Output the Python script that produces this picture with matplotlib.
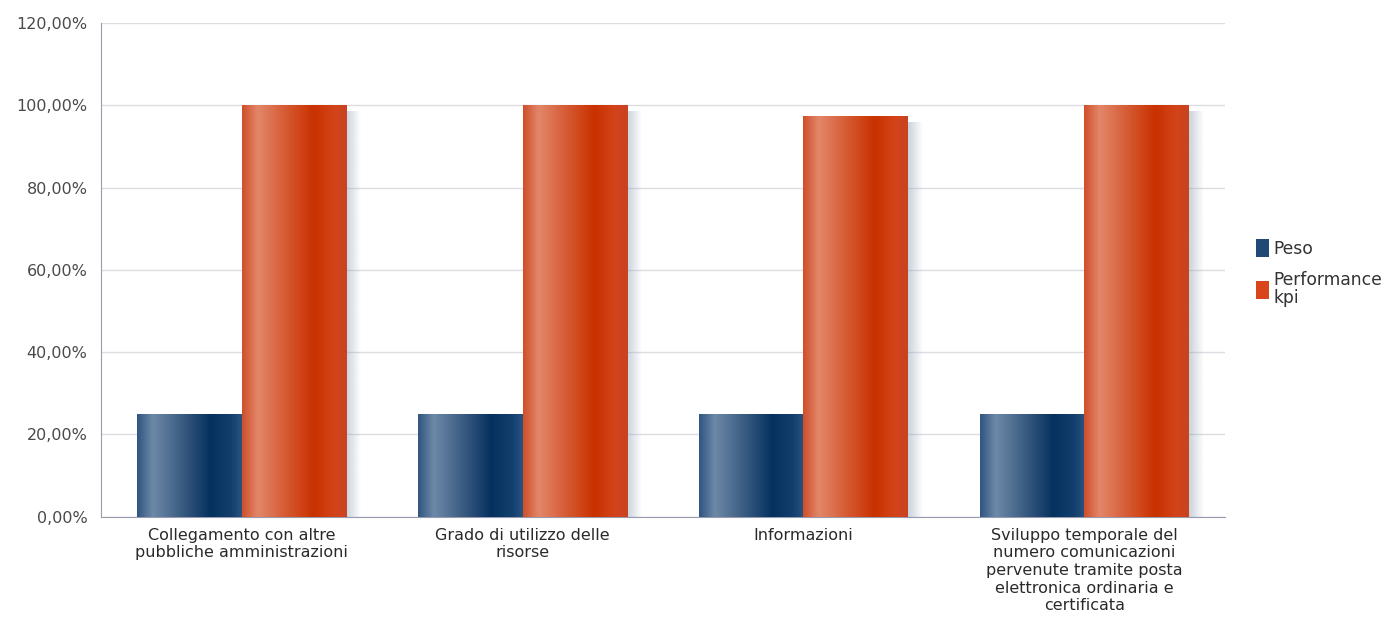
import numpy as np
import matplotlib
matplotlib.use("Agg")
import matplotlib.pyplot as plt
from matplotlib.colors import LinearSegmentedColormap
from matplotlib.patches import Patch

plt.rcParams['font.family'] = ['DejaVu Sans']

categorie = [
    "Collegamento con altre\npubbliche amministrazioni",
    "Grado di utilizzo delle\nrisorse",
    "Informazioni",
    "Sviluppo temporale del\nnumero comunicazioni\npervenute tramite posta\nelettronica ordinaria e\ncertificata",
]
peso = [25.0, 25.0, 25.0, 25.0]
performance_kpi = [100.0, 100.0, 97.5, 100.0]
tick_valori = [0, 20, 40, 60, 80, 100, 120]

# sfumature "cilindriche" delle barre
cmap_blu = LinearSegmentedColormap.from_list("blu", [
    (0.0, "#2f5581"), (0.15, "#6e89a8"), (0.45, "#36597f"),
    (0.7, "#05315f"), (0.9, "#123f6d"), (1.0, "#2a5380")])
cmap_arancio = LinearSegmentedColormap.from_list("arancio", [
    (0.0, "#cf4f2a"), (0.15, "#e2876a"), (0.45, "#d4552c"),
    (0.68, "#c93100"), (0.88, "#d3441a"), (1.0, "#c84322")])

fig, ax = plt.subplots(figsize=(13.9, 6.21), dpi=100)
fig.subplots_adjust(left=0.073, right=0.881, top=0.963, bottom=0.168)

x = np.arange(len(categorie))
w = 0.372
gradiente = np.linspace(0, 1, 256).reshape(1, -1)

# ombra: grigio-azzurro con trasparenza decrescente
ombra = np.zeros((1, 64, 4))
ombra[..., :3] = np.array([0x8a, 0x9c, 0xb2]) / 255
ombra[..., 3] = np.linspace(0.45, 0, 64)


def barre_sfumate(xs, valori, cmap, con_ombra=False):
    barre = ax.bar(xs, valori, w, color="none", edgecolor="none", zorder=3)
    for b in barre:
        x0, y0, bw, bh = b.get_x(), b.get_y(), b.get_width(), b.get_height()
        if con_ombra:
            ax.imshow(ombra, aspect="auto",
                      extent=(x0 + bw, x0 + bw + 0.05, y0, y0 + bh - 1.5),
                      zorder=2, interpolation="bilinear")
        im = ax.imshow(gradiente, cmap=cmap, aspect="auto",
                       extent=(x0, x0 + bw, y0, y0 + bh), zorder=3,
                       interpolation="bilinear")
        im.set_clip_path(b)
    return barre


barre_sfumate(x - w / 2, peso, cmap_blu)
barre_sfumate(x + w / 2, performance_kpi, cmap_arancio, con_ombra=True)

ax.set_xlim(-0.5, len(categorie) - 0.5)
ax.set_ylim(0, 120)
ax.set_yticks(tick_valori)
ax.set_yticklabels([f"{v},00%" for v in tick_valori])
ax.set_xticks(x)
ax.set_xticklabels(categorie, fontsize=11.5, color="#2a2a2a", linespacing=1.22)
ax.tick_params(axis="y", labelsize=11.5, labelcolor="#4a4a4a", length=0, pad=10)
ax.tick_params(axis="x", length=0, pad=8)

ax.grid(axis="y", color="#dcdde3", linewidth=1, zorder=0)
ax.set_axisbelow(True)
for s in ["top", "right"]:
    ax.spines[s].set_visible(False)
ax.spines["left"].set_color("#9a9aae")
ax.spines["bottom"].set_color("#9a9aae")

legenda = [Patch(facecolor="#1f4a78", edgecolor="none", label="Peso"),
           Patch(facecolor="#d9461c", edgecolor="none", label="Performance\nkpi")]
leg = ax.legend(handles=legenda, loc="center left", bbox_to_anchor=(1.017, 0.494),
                frameon=False, fontsize=12.3, handlelength=0.8, handleheight=1.3,
                handletextpad=0.25, labelspacing=0.75, labelcolor="#333333",
                borderaxespad=0.3)
for t in leg.get_texts():
    t.set_linespacing(1.0)

fig.savefig("out.png", dpi=100, facecolor="white")
